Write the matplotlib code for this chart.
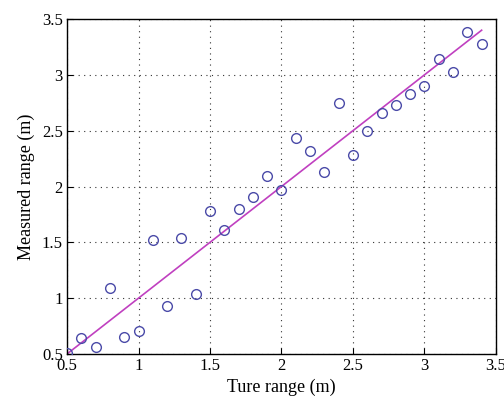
import numpy as np
import matplotlib.pyplot as plt

# true range (m) and measured range (m)
true_range = [0.5, 0.6, 0.7, 0.8, 0.9, 1.0, 1.1, 1.2, 1.3, 1.4,
              1.5, 1.6, 1.7, 1.8, 1.9, 2.0, 2.1, 2.2, 2.3, 2.4,
              2.5, 2.6, 2.7, 2.8, 2.9, 3.0, 3.1, 3.2, 3.3, 3.4]
measured = [0.51, 0.64, 0.56, 1.09, 0.65, 0.71, 1.52, 0.93, 1.54, 1.04,
            1.78, 1.61, 1.80, 1.91, 2.09, 1.97, 2.43, 2.32, 2.13, 2.75,
            2.28, 2.50, 2.66, 2.73, 2.83, 2.90, 3.14, 3.03, 3.38, 3.28]
fit_x = [0.5, 3.4]
fit_y = [0.5, 3.4]

plt.rcParams['font.family'] = ['Liberation Serif', 'DejaVu Serif']

fig = plt.figure(figsize=(5.04, 4.05), dpi=100)
ax = fig.add_axes([0.133, 0.126, 0.851, 0.827])

ax.plot(fit_x, fit_y, color='#c040c0', lw=1.2, zorder=2)
ax.plot(true_range, measured, 'o', mfc='none', mec='#4a4aa8', ms=7, mew=1.0, zorder=3)

ax.set_xlim(0.5, 3.5)
ax.set_ylim(0.5, 3.5)
ticks = np.arange(0.5, 3.51, 0.5)
labels = ['0.5', '1', '1.5', '2', '2.5', '3', '3.5']
ax.set_xticks(ticks)
ax.set_xticklabels(labels)
ax.set_yticks(ticks)
ax.set_yticklabels(labels)
ax.tick_params(direction='in', length=4, labelsize=12, pad=3)
ax.grid(True, linestyle=(0, (1, 4)), color='#333333', lw=0.8)
for s in ax.spines.values():
    s.set_linewidth(1.0)

ax.set_xlabel('Ture range (m)', fontsize=13, labelpad=3)
ax.set_ylabel('Measured range (m)', fontsize=13, labelpad=5)

fig.savefig('out.png', dpi=100)
